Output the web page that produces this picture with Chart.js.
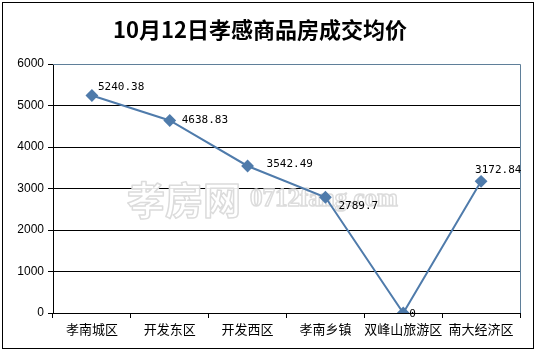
<!DOCTYPE html>
<html>
<head>
<meta charset="utf-8">
<script src="https://cdn.jsdelivr.net/npm/chart.js@4.4.1/dist/chart.umd.min.js"></script>
<style>
  body { margin: 0; background: #fff; }
</style>
</head>
<body>
<canvas id="myChart" width="536" height="351"></canvas>
<script>
const districts = ["孝南城区", "开发东区", "开发西区", "孝南乡镇", "双峰山旅游区", "南大经济区"];
const avgPrice = [5240.38, 4638.83, 3542.49, 2789.7, 0, 3172.84];
const yTicks = [0, 1000, 2000, 3000, 4000, 5000, 6000];

const ctx = document.getElementById("myChart");

const lineColor = "#4f7bab";
const frameColor = "#5f7f99";

// where each value label sits relative to its point (px)
const labelShift = [[6, -8], [12, 0], [19, -2], [13, 9], [6, 1], [-6, -11]];

// outer frame, plot frame, watermark, value labels
const decorations = {
  id: "decorations",
  beforeDatasetsDraw(chart) {
    const c = chart.ctx;
    const area = chart.chartArea;
    c.save();
    c.lineJoin = "round";
    c.lineWidth = 1.5;
    c.strokeStyle = "#dcdcdc";
    c.fillStyle = "rgba(255,255,255,0.9)";
    c.textBaseline = "alphabetic";
    c.font = "bold 38px 'Noto Sans CJK SC'";
    c.fillText("孝房网", 127, 214);
    c.strokeText("孝房网", 127, 214);
    c.font = "bold 25px 'Liberation Serif'";
    c.fillText("0712fang.com", 250, 206);
    c.strokeText("0712fang.com", 250, 206);
    c.restore();

    c.save();
    c.strokeStyle = frameColor;
    c.lineWidth = 1;
    c.beginPath();
    c.moveTo(area.left, area.top + 0.5);
    c.lineTo(area.right + 0.5, area.top + 0.5);
    c.lineTo(area.right + 0.5, area.bottom);
    c.stroke();
    c.restore();
  },
  afterDraw(chart) {
    const c = chart.ctx;
    c.save();
    c.strokeStyle = "#000";
    c.lineWidth = 1;
    c.strokeRect(2.5, 2.5, 531, 346);

    c.fillStyle = "#000";
    c.font = "11px 'DejaVu Sans Mono'";
    c.textBaseline = "middle";
    c.textAlign = "left";
    const meta = chart.getDatasetMeta(0);
    meta.data.forEach((pt, i) => {
      const s = labelShift[i];
      c.fillText(String(avgPrice[i]), pt.x + s[0], pt.y + s[1]);
    });
    c.restore();
  },
};

const myChart = new Chart(ctx, {
  type: "line",
  data: {
    labels: districts,
    datasets: [
      {
        label: "成交均价",
        data: avgPrice,
        borderColor: lineColor,
        backgroundColor: lineColor,
        borderWidth: 2,
        pointStyle: "rectRot",
        pointRadius: 5,
        pointHoverRadius: 5,
        tension: 0,
      },
    ],
  },
  options: {
    responsive: false,
    animation: false,
    layout: {
      padding: { left: 0, right: 16, top: 0, bottom: 0 },
    },
    scales: {
      x: {
        offset: true,
        grid: {
          offset: true,
          drawOnChartArea: false,
          drawTicks: true,
          tickLength: 5,
          color: "#000",
        },
        border: { color: "#000", width: 1 },
        ticks: {
          color: "#000",
          padding: 3,
          maxRotation: 0,
          autoSkip: false,
          font: { family: "'Noto Sans CJK SC'", size: 13 },
        },
        afterFit: (scale) => {
          scale.height = 38;
        },
      },
      y: {
        min: 0,
        max: 6000,
        afterBuildTicks: (scale) => {
          scale.ticks = yTicks.map((v) => ({ value: v }));
        },
        grid: {
          color: (c) => (c.tick && c.tick.value === 6000 ? frameColor : "#000"),
          tickColor: "#000",
          tickLength: 5,
        },
        border: { color: "#000", width: 1 },
        ticks: {
          color: "#000",
          padding: 4,
          font: { family: "'Liberation Sans'", size: 12 },
          callback: (v) => String(v),
        },
        afterFit: (scale) => {
          scale.width = 53;
        },
      },
    },
    plugins: {
      legend: { display: false },
      tooltip: { enabled: false },
      title: {
        display: true,
        text: "10月12日孝感商品房成交均价",
        color: "#000",
        font: { family: "'Noto Sans CJK SC'", size: 22, weight: "bold" },
        padding: { top: 16, bottom: 21.6 },
      },
    },
  },
  plugins: [decorations],
});
</script>
</body>
</html>
